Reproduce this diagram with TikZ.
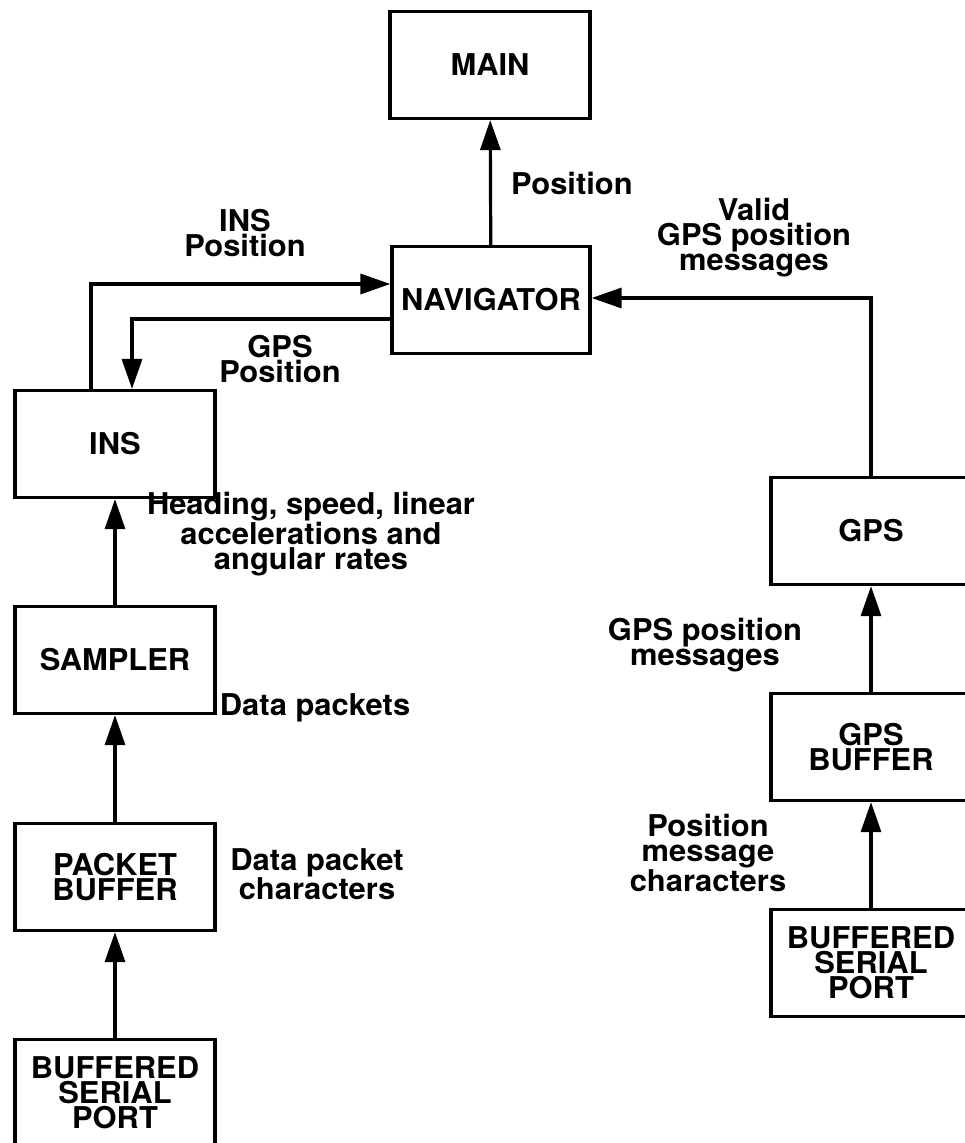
\documentclass[tikz,border=0pt]{standalone}
\usepackage{fontspec}
\setmainfont{TeX Gyre Heros}[FakeStretch=1.03]
\usetikzlibrary{arrows.meta}

\begin{document}
\begin{tikzpicture}[x=1pt, y=-1pt, >={Triangle[length=30pt,width=20pt]},
    block/.style={draw=black, line width=3.2pt, minimum width=200pt,
                  minimum height=107pt, inner sep=0pt, align=center,
                  font=\fontsize{30}{25}\selectfont\bfseries},
    lbl/.style={align=center, inner sep=0pt,
                font=\fontsize{30}{25}\selectfont\bfseries},
    flow/.style={->, line width=3.2pt, draw=black}]

  \useasboundingbox (0,0) rectangle (964,1143);

  % ---- top: main and navigator
  \node[block] (main) at (490,65)  {MAIN};
  \node[block, minimum width=198pt] (nav) at (491,300) {NAVIGATOR};
  \draw[flow] (nav) -- (main);
  \node[lbl, anchor=west] (lblPos) at (511,183) {Position};

  % ---- left column: the INS chain
  \node[block] (ins)     at (115,444)  {INS};
  \node[block] (sampler) at (115,660)  {SAMPLER};
  \node[block] (pbuf)    at (115,877)  {PACKET\\BUFFER};
  \node[block] (bspL)    at (115,1093) {BUFFERED\\SERIAL\\PORT};
  \draw[flow] (sampler) -- (ins);
  \draw[flow] (pbuf) -- (sampler);
  \draw[flow] (bspL) -- (pbuf);
  \node[lbl] (lblHeading) at (311,534)
    {Heading, speed, linear\\accelerations and\\angular rates};
  \node[lbl] (lblData)  at (315,708) {Data packets};
  \node[lbl] (lblChars) at (317,874) {Data packet\\characters};

  % ---- INS <-> navigator
  \draw[flow] ([xshift=-24pt]ins.north) |- ([yshift=16pt]nav.west);
  \draw[flow] ([yshift=-19pt]nav.west) -| ([xshift=17pt]ins.north);
  \node[lbl] (lblInsPos) at (245,233) {INS\\Position};
  \node[lbl] (lblGpsPos) at (280,359) {GPS\\Position};

  % ---- right column: the GPS chain
  \node[block] (gps)    at (871,531) {GPS};
  \node[block] (gpsbuf) at (871,747) {GPS\\BUFFER};
  \node[block] (bspR)   at (871,963) {BUFFERED\\SERIAL\\PORT};
  \draw[flow] (gpsbuf) -- (gps);
  \draw[flow] (bspR) -- (gpsbuf);
  \draw[flow] (gps.north) |- ([yshift=2pt]nav.east);
  \node[lbl] (lblValid)    at (754,238) {Valid\\GPS position\\messages};
  \node[lbl] (lblGpsMsg)   at (705,645) {GPS position\\messages};
  \node[lbl] (lblPosChars) at (708,853) {Position\\message\\characters};
\end{tikzpicture}
\end{document}
